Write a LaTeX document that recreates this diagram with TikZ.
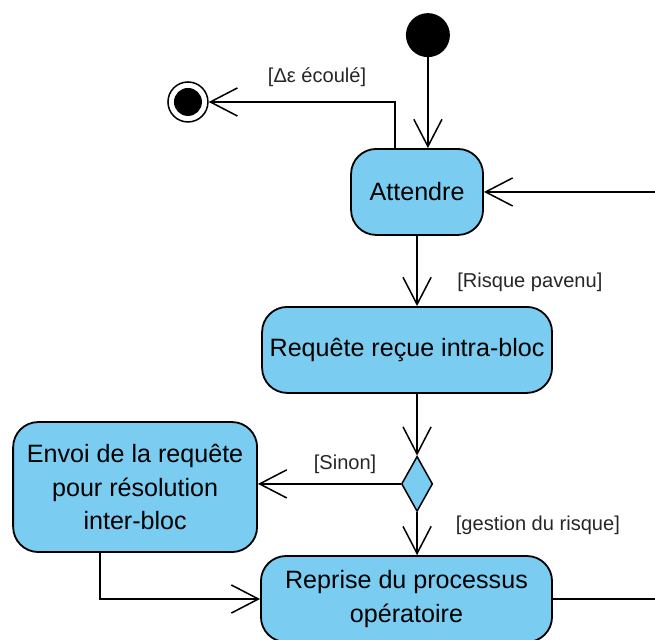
\documentclass[tikz,border=0pt]{standalone}
\usepackage{fontspec}
\setmainfont{Liberation Sans}
\usetikzlibrary{arrows.meta,shapes.geometric}
\definecolor{actblue}{RGB}{122,204,240}
\begin{document}
\begin{tikzpicture}[every node/.style={font=\fontsize{20}{24}\selectfont, text=black!85},
  act/.style={draw, line width=1.8pt, fill=actblue, rounded corners=25pt,
    minimum height=3.01cm, align=center, text=black,
    font=\fontsize{25}{33}\selectfont},
  flow/.style={line width=1.5pt, -{Straight Barb[length=27pt,width=28pt]}}]
  \useasboundingbox (0,0) rectangle (22.93,22.37);

  % start and end
  \node[circle, fill=black, minimum size=1.54cm, inner sep=0pt] (init) at (14.98,21.14) {};
  \node[circle, draw, line width=1.5pt, fill=white, minimum size=1.40cm, inner sep=0pt] (fin) at (6.58,18.80) {};
  \fill (fin) circle (0.49);

  % actions
  \node[act, minimum width=4.62cm] (att) at (14.60,15.65) {Attendre};
  \node[act, minimum width=10.15cm] (req) at (14.25,10.12) {Requête reçue intra-bloc};
  \node[act, minimum width=8.54cm, minimum height=4.55cm] (env) at (4.73,5.32)
    {Envoi de la requête\\pour résolution\\inter-bloc};
  \node[act, minimum width=10.19cm] (rep) at (14.23,1.40) {Reprise du processus\\opératoire};

  % decision
  \node[diamond, draw, line width=1.5pt, fill=actblue, minimum width=1.09cm,
    minimum height=1.93cm, inner sep=0pt] (dec) at (14.60,5.43) {};

  % open ends on the right
  \coordinate (rin) at (22.93,15.65);
  \coordinate (rout) at (22.93,1.40);

  % flows
  \draw[flow] (init) -- (init |- att.north);
  \draw[flow] ([xshift=-0.77cm]att.north) |- (fin);
  \node (lbltime) at (11.10,19.67) {[Δε écoulé]};
  \draw[flow] (rin) -- (att);
  \draw[flow] (att) -- (att |- req.north);
  \node (lblrisk) at (18.55,12.50) {[Risque pavenu]};
  \draw[flow] (dec |- req.south) -- (dec);
  \draw[flow] (dec) -- (dec -| env.east);
  \node (lblelse) at (12.08,6.13) {[Sinon]};
  \draw[flow] (dec) -- (dec |- rep.north);
  \node (lblmanage) at (18.83,3.99) {[gestion du risque]};
  \draw[flow] ([xshift=-1.23cm]env.south) |- (rep);
  \draw[line width=1.5pt] (rep) -- (rout);
\end{tikzpicture}
\end{document}
